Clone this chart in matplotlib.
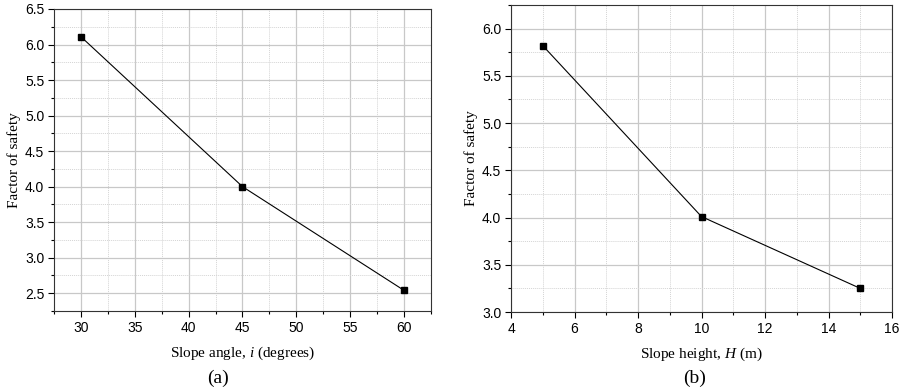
import numpy as np
import matplotlib.pyplot as plt
from matplotlib.ticker import MultipleLocator

# Datos
angulo = [30, 45, 60]
fs_angulo = [6.11, 4.00, 2.54]

altura = [5, 10, 15]
fs_altura = [5.82, 4.01, 3.25]

plt.rcParams['font.family'] = 'Liberation Sans'
plt.rcParams['mathtext.fontset'] = 'custom'
plt.rcParams['mathtext.it'] = 'Liberation Serif:italic'
plt.rcParams['mathtext.rm'] = 'Liberation Serif'

fig = plt.figure(figsize=(9, 3.92), dpi=100)
ax1 = fig.add_axes([54/900, 1 - 311/392, (431-54)/900, (311-9)/392])
ax2 = fig.add_axes([511/900, 1 - 312/392, (892-511)/900, (312-5)/392])


def estilo(ax):
    ax.grid(True, which='major', color='#c8c8c8', linewidth=0.9)
    ax.grid(True, which='minor', color='#d4d4d4', linewidth=0.7, linestyle=(0, (1, 1)))
    ax.set_axisbelow(True)
    ax.tick_params(which='both', direction='out', top=False, right=False, labelsize=10, pad=3)
    ax.tick_params(which='major', length=4, width=0.8)
    ax.tick_params(which='minor', length=2.5, width=0.8)
    for s in ax.spines.values():
        s.set_linewidth(0.8)
        s.set_color('#333333')
    ax.set_ylabel('Factor of safety', family='Liberation Serif', fontsize=11, labelpad=3)


ax1.plot(angulo, fs_angulo, '-s', color='black', linewidth=0.8, markersize=5)
ax1.set_xlim(27.5, 62.5)
ax1.set_ylim(2.25, 6.5)
ax1.xaxis.set_major_locator(MultipleLocator(5))
ax1.xaxis.set_minor_locator(MultipleLocator(2.5))
ax1.yaxis.set_major_locator(MultipleLocator(0.5))
ax1.yaxis.set_minor_locator(MultipleLocator(0.25))
estilo(ax1)
ax1.set_xlabel('Slope angle, $\\it{i}$ (degrees)', family='Liberation Serif', fontsize=11, labelpad=7)

ax2.plot(altura, fs_altura, '-s', color='black', linewidth=0.8, markersize=5)
ax2.set_xlim(4, 16)
ax2.set_ylim(3.0, 6.25)
ax2.xaxis.set_major_locator(MultipleLocator(2))
ax2.xaxis.set_minor_locator(MultipleLocator(1))
ax2.yaxis.set_major_locator(MultipleLocator(0.5))
ax2.yaxis.set_minor_locator(MultipleLocator(0.25))
estilo(ax2)
ax2.set_xlabel('Slope height, $\\it{H}$ (m)', family='Liberation Serif', fontsize=11, labelpad=7)

fig.text(218/900, 1 - 378/392, '(a)', family='Liberation Serif', fontsize=14, ha='center', va='center')
fig.text(695/900, 1 - 378/392, '(b)', family='Liberation Serif', fontsize=14, ha='center', va='center')

fig.savefig('out.png', dpi=100)
